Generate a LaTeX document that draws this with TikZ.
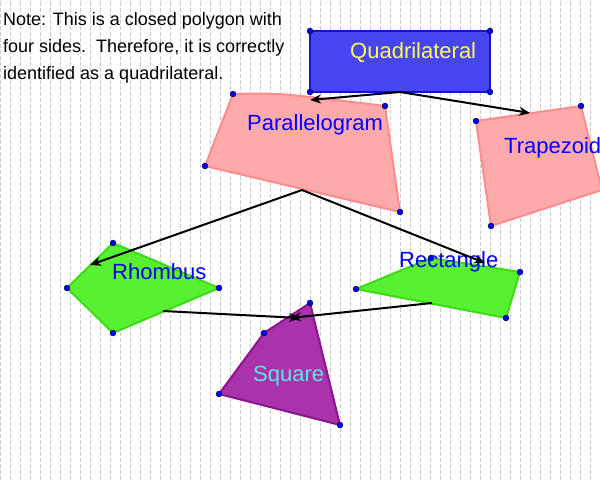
\documentclass[tikz,border=0pt]{standalone}
\usepackage{fontspec}
\setmainfont{Liberation Sans}
\usetikzlibrary{arrows.meta}
\begin{document}
\begin{tikzpicture}[x=1pt,y=-1pt,
  pt/.style={circle,fill=blue,draw=black,line width=0.3pt,inner sep=0pt,minimum size=6pt},
  arr/.style={line width=2pt,-{Stealth[length=11pt,width=9pt]}},
  lbl/.style={font=\fontsize{22}{24}\selectfont,inner sep=0pt,anchor=west}]
\useasboundingbox (0,0) rectangle (600,480);
\clip (0,0) rectangle (600,480);
\draw[gray!40,line width=0.8pt,dash pattern=on 4pt off 2pt] (-0.5,-0.5) grid[step=10] (600,480);
% Quadrilateral
\filldraw[fill={rgb,255:red,70;green,70;blue,240},draw={rgb,255:red,20;green,20;blue,200},line width=2pt] (310,31) rectangle (490,92);
\foreach \p in {(310,31),(490,31),(490,92),(310,92)} \node[pt] at \p {};
\node[lbl,text={rgb,255:red,255;green,255;blue,80}] (q) at (350,53) {Quadrilateral};
% Parallelogram
\filldraw[fill={rgb,255:red,255;green,170;blue,170},draw={rgb,255:red,255;green,140;blue,140},line width=2pt] (233,94) .. controls (280,93) .. (385,106) -- (400,212) -- (205,166) -- cycle;
\foreach \p in {(233,94),(385,106),(400,212),(205,166)} \node[pt] at \p {};
\node[lbl,text=blue] (p) at (247,125) {Parallelogram};
% Trapezoid
\filldraw[fill={rgb,255:red,255;green,170;blue,170},draw={rgb,255:red,255;green,140;blue,140},line width=2pt] (476,121) -- (581,106) -- (602,190) -- (491,226) -- cycle;
\foreach \p in {(476,121),(581,106),(491,226)} \node[pt] at \p {};
\node[lbl,text=blue] (t) at (504,148) {Trapezoid};
% Rhombus
\filldraw[fill={rgb,255:red,90;green,240;blue,50},draw={rgb,255:red,60;green,220;blue,20},line width=2pt] (113,243) -- (219,288) -- (113,333) -- (67,288) -- cycle;
\foreach \p in {(113,243),(219,288),(113,333),(67,288)} \node[pt] at \p {};
\node[lbl,text=blue] (r) at (112,272) {Rhombus};
% Rectangle
\filldraw[fill={rgb,255:red,90;green,240;blue,50},draw={rgb,255:red,60;green,220;blue,20},line width=2pt] (356,289) -- (431,258) -- (520,272) -- (506,318) -- cycle;
\foreach \p in {(356,289),(431,258),(520,272),(506,318)} \node[pt] at \p {};
\node[lbl,text=blue] (re) at (399,262) {Rectangle};
% Square
\filldraw[fill={rgb,255:red,170;green,50;blue,170},draw={rgb,255:red,140;green,20;blue,140},line width=2pt] (310,303) -- (340,425) -- (219,394) -- (264,333) -- cycle;
\foreach \p in {(310,303),(340,425),(219,394),(264,333)} \node[pt] at \p {};
\node[lbl,text={rgb,255:red,90;green,230;blue,230}] (s) at (253,376) {Square};
% arrows
\coordinate (qa) at (400,92);
\coordinate (pa) at (302,190);
\coordinate (ra) at (163,311);
\coordinate (rea) at (432,303);
\coordinate (pt1) at (310,100);
\coordinate (tt) at (530,113);
\coordinate (rt) at (90,265);
\coordinate (ret) at (485,263);
\coordinate (st) at (300,318);
\coordinate (st2) at (290,318);
\draw[arr] (qa) -- (pt1);
\draw[arr] (qa) -- (tt);
\draw[arr] (pa) -- (rt);
\draw[arr] (pa) -- (ret);
\draw[arr] (ra) -- (st);
\draw[arr] (rea) -- (st2);
% note
\node[anchor=north west,align=left,inner sep=0pt,font=\fontsize{18}{27}\selectfont] (n) at (3,12) {Note: This is a closed polygon with\\four sides.\ \ Therefore, it is correctly\\identified as a quadrilateral.};
\end{tikzpicture}
\end{document}
